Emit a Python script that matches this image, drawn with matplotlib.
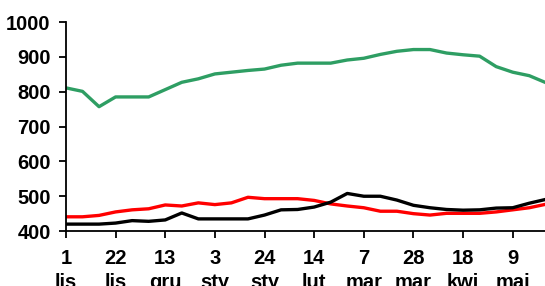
import matplotlib
matplotlib.use("Agg")
import matplotlib.pyplot as plt

# weekly observations, starting 1 lis
weeks = list(range(30))
tick_weeks = [0, 3, 6, 9, 12, 15, 18, 21, 24, 27]
tick_labels = ["1\nlis", "22\nlis", "13\ngru", "3\nsty", "24\nsty",
               "14\nlut", "7\nmar", "28\nmar", "18\nkwi", "9\nmai"]

green = [811, 801, 757, 785, 785, 785, 806, 827, 837, 851,
         856, 861, 865, 876, 882, 882, 882, 891, 896, 907,
         916, 921, 921, 911, 906, 902, 872, 856, 846, 826]
red = [441, 441, 445, 455, 461, 464, 475, 472, 481, 476,
       481, 497, 493, 493, 493, 488, 478, 472, 467, 457,
       457, 450, 446, 451, 451, 451, 455, 461, 467, 477]
black = [420, 420, 420, 423, 430, 428, 432, 452, 435, 435,
         435, 435, 446, 461, 462, 469, 483, 508, 500, 500,
         489, 474, 467, 462, 460, 461, 466, 467, 480, 491]

plt.rcParams["font.family"] = ["Liberation Sans", "DejaVu Sans"]

fig = plt.figure(figsize=(5.45, 2.86), dpi=100)
ax = fig.add_axes([0.121, 0.192, 0.879, 0.731])

ax.plot(weeks, green, color="#2e9e63", linewidth=2.4, solid_joinstyle="round")
ax.plot(weeks, red, color="#ff0000", linewidth=2.4, solid_joinstyle="round")
ax.plot(weeks, black, color="#000000", linewidth=2.4, solid_joinstyle="round")

ax.set_xlim(0, 28.95)
ax.set_ylim(400, 1000)
ax.set_yticks([400, 500, 600, 700, 800, 900, 1000])
ax.set_xticks(tick_weeks)
ax.set_xticklabels(tick_labels, linespacing=1.35)

for side in ("top", "right"):
    ax.spines[side].set_visible(False)
for side in ("left", "bottom"):
    ax.spines[side].set_linewidth(1.3)
ax.tick_params(axis="both", direction="out", length=5, width=1.3,
               labelsize=14.5)
ax.tick_params(axis="x", pad=8)
ax.tick_params(axis="y", pad=6)
for lbl in ax.get_xticklabels() + ax.get_yticklabels():
    lbl.set_fontweight("bold")
for lbl in ax.get_xticklabels():
    lbl.set_verticalalignment("top")

fig.savefig("out.png", dpi=100)
